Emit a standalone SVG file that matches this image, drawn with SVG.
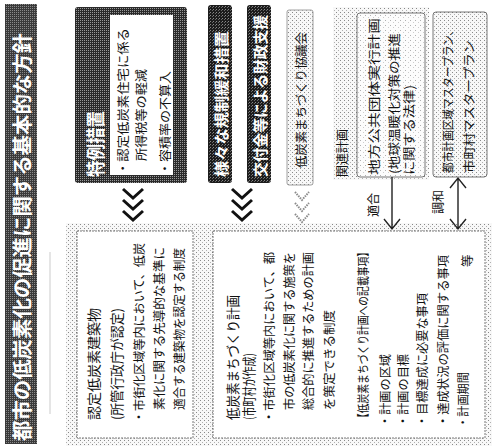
<svg xmlns="http://www.w3.org/2000/svg" width="492" height="446" viewBox="0 0 492 446">
<style>
text{font-family:'Noto Sans CJK JP','Noto Sans',sans-serif;dominant-baseline:central}
.w{fill:#fff;font-weight:bold}
.d{fill:#111;font-size:12.5px}
.h{fill:#111;font-size:13.5px}
.chev{fill:none;stroke:#111;stroke-width:3}
.chevl{fill:none;stroke:#8a8a8a;stroke-width:2;stroke-dasharray:1.5 1}
.arr{fill:none;stroke:#222;stroke-width:1.4}
</style>
<defs>
<pattern id="ht" width="2" height="2" patternUnits="userSpaceOnUse"><rect width="2" height="2" fill="#3a3a3a"/><rect width="1" height="1" fill="#8a8a8a"/></pattern>
<pattern id="dk" width="3" height="3" patternUnits="userSpaceOnUse"><rect width="3" height="3" fill="#1c1c1c"/><rect width="1" height="1" fill="#888"/><rect x="2" y="1" width="1" height="1" fill="#666"/></pattern>
<pattern id="fr" width="2" height="2" patternUnits="userSpaceOnUse"><rect width="2" height="2" fill="#2a2a2a"/><rect width="1" height="1" fill="#999"/></pattern>
<pattern id="lt" width="4" height="4" patternUnits="userSpaceOnUse"><rect width="4" height="4" fill="#f8f8f8"/><rect width="1" height="1" fill="#888"/><rect x="2" y="2" width="1" height="1" fill="#b0b0b0"/></pattern>
<pattern id="lt2" width="5" height="5" patternUnits="userSpaceOnUse"><rect width="5" height="5" fill="#fcfcfc"/><rect width="1" height="1" fill="#b0b0b0"/><rect x="3" y="2" width="1" height="1" fill="#cccccc"/></pattern>
</defs>
<rect width="492" height="446" fill="#fff"/>

<g id="title">
<rect x="5" y="4" width="32" height="440" fill="url(#ht)"/>
<text class="w" font-size="20" transform="translate(21,441) rotate(-90)" textLength="408" lengthAdjust="spacingAndGlyphs">都市の低炭素化の促進に関する基本的な方針</text>
</g>

<line x1="50" y1="252" x2="50" y2="414" stroke="#aaa" stroke-width="0.6"/>

<g id="tokurei">
<rect x="75" y="7" width="112" height="176" rx="3" fill="url(#fr)"/>
<rect x="110" y="15" width="63" height="160" fill="#fff"/>
<text class="w" font-size="19" transform="translate(94,177) rotate(-90)" textLength="66" lengthAdjust="spacingAndGlyphs">特例措置</text>
<text class="d" font-size="13" transform="translate(122,175) rotate(-90)" textLength="147" lengthAdjust="spacingAndGlyphs">・認定低炭素住宅に係る</text>
<text class="d" font-size="13" transform="translate(140,161) rotate(-90)" textLength="92" lengthAdjust="spacingAndGlyphs">所得税等の軽減</text>
<text class="d" font-size="13" transform="translate(164,175) rotate(-90)" textLength="104" lengthAdjust="spacingAndGlyphs">・容積率の不算入</text>
</g>

<g id="kisei">
<rect x="208" y="5" width="24" height="178" rx="3" fill="url(#dk)"/>
<text class="w" font-size="15" transform="translate(220,177) rotate(-90)" textLength="146" lengthAdjust="spacingAndGlyphs">様々な規制緩和措置</text>
</g>

<g id="kofukin">
<rect x="247" y="5" width="24" height="178" rx="3" fill="url(#dk)"/>
<text class="w" font-size="15" transform="translate(259,177) rotate(-90)" textLength="162" lengthAdjust="spacingAndGlyphs">交付金等による財政支援</text>
</g>

<g id="kyogikai">
<rect x="287" y="10" width="26" height="175" rx="2" fill="url(#lt)" stroke="#888" stroke-width="0.8"/>
<text class="d" font-size="13" transform="translate(300,168) rotate(-90)" textLength="136" lengthAdjust="spacingAndGlyphs">低炭素まちづくり協議会</text>
</g>

<g id="kanren">
<rect x="333" y="7" width="96" height="173" fill="url(#lt)"/>
<text class="d" font-size="12.5" transform="translate(341,177) rotate(-90)" textLength="48" lengthAdjust="spacingAndGlyphs">関連計画</text>
<rect x="357" y="13" width="68" height="164" rx="3" fill="url(#lt2)" stroke="#555" stroke-width="0.8"/>
<text class="d" font-size="14" transform="translate(373,175) rotate(-90)" textLength="157" lengthAdjust="spacingAndGlyphs">地方公共団体実行計画</text>
<text class="d" font-size="13" transform="translate(393,174) rotate(-90)" textLength="141" lengthAdjust="spacingAndGlyphs">(地球温暖化対策の推進</text>
<text class="d" font-size="13" transform="translate(408,175) rotate(-90)" textLength="90" lengthAdjust="spacingAndGlyphs">に関する法律)</text>
</g>

<g id="toshikeikaku">
<rect x="433" y="12" width="54" height="165" rx="3" fill="url(#lt)" stroke="#555" stroke-width="0.8"/>
<text class="d" font-size="12" transform="translate(447,173) rotate(-90)" textLength="148" lengthAdjust="spacingAndGlyphs">都市計画区域マスタープラン、</text>
<text class="d" font-size="13" transform="translate(468,173) rotate(-90)" textLength="133" lengthAdjust="spacingAndGlyphs">市町村マスタープラン</text>
</g>

<rect x="66" y="223" width="426" height="223" fill="url(#lt)"/>

<g id="nintei">
<rect x="77" y="231" width="116" height="207" fill="#fff" stroke="#555" stroke-width="0.8" stroke-dasharray="2 1"/>
<text class="h" transform="translate(93,420) rotate(-90)" textLength="112" lengthAdjust="spacingAndGlyphs">認定低炭素建築物</text>
<text class="h" transform="translate(116,420) rotate(-90)" textLength="112" lengthAdjust="spacingAndGlyphs">(所管行政庁が認定)</text>
<text class="d" transform="translate(138,423) rotate(-90)" textLength="180" lengthAdjust="spacingAndGlyphs">・市街化区域等内において、低炭</text>
<text class="d" transform="translate(158,410) rotate(-90)" textLength="163" lengthAdjust="spacingAndGlyphs">素化に関する先導的な基準に</text>
<text class="d" transform="translate(178,410) rotate(-90)" textLength="162" lengthAdjust="spacingAndGlyphs">適合する建築物を認定する制度</text>
</g>

<g id="keikaku">
<rect x="213" y="231" width="272" height="207" fill="#fff" stroke="#555" stroke-width="0.8" stroke-dasharray="2 1"/>
<text class="h" transform="translate(232,420) rotate(-90)" textLength="125" lengthAdjust="spacingAndGlyphs">低炭素まちづくり計画</text>
<text class="h" transform="translate(248,420) rotate(-90)" textLength="67" lengthAdjust="spacingAndGlyphs">(市町村が作成)</text>
<text class="d" transform="translate(268,423) rotate(-90)" textLength="171" lengthAdjust="spacingAndGlyphs">・市街化区域等内において、都</text>
<text class="d" transform="translate(288,410) rotate(-90)" textLength="158" lengthAdjust="spacingAndGlyphs">市の低炭素化に関する施策を</text>
<text class="d" transform="translate(307,410) rotate(-90)" textLength="158" lengthAdjust="spacingAndGlyphs">総合的に推進するための計画</text>
<text class="d" transform="translate(328,410) rotate(-90)" textLength="100" lengthAdjust="spacingAndGlyphs">を策定できる制度</text>
<text class="d" transform="translate(362,423) rotate(-90)" textLength="176" lengthAdjust="spacingAndGlyphs">【低炭素まちづくり計画への記載事項】</text>
<text class="d" transform="translate(384,427) rotate(-90)" textLength="73" lengthAdjust="spacingAndGlyphs">・計画の区域</text>
<text class="d" transform="translate(402,427) rotate(-90)" textLength="73" lengthAdjust="spacingAndGlyphs">・計画の目標</text>
<text class="d" transform="translate(421,427) rotate(-90)" textLength="134" lengthAdjust="spacingAndGlyphs">・目標達成に必要な事項</text>
<text class="d" transform="translate(442,427) rotate(-90)" textLength="172" lengthAdjust="spacingAndGlyphs">・達成状況の評価に関する事項</text>
<text class="d" transform="translate(462,428) rotate(-90)" textLength="56" lengthAdjust="spacingAndGlyphs">・計画期間</text>
<text class="d" transform="translate(466,267) rotate(-90)">等</text>
</g>

<g id="connectors">
<path class="chev" d="M123,189 l10,9 l10,-9 M123,200 l10,9 l10,-9 M123,211 l10,9 l10,-9"/>
<path class="chev" d="M232,189 l10,9 l10,-9 M232,200 l10,9 l10,-9 M232,211 l10,9 l10,-9"/>
<path class="chevl" d="M295,192 l7,8 l7,-8 M295,203 l7,8 l7,-8 M295,214 l7,8 l7,-8"/>
<path class="arr" d="M392,177 V229 M384,219 L392,229 L400,219"/>
<path class="arr" d="M458,178 V229 M450,188 L458,178 L466,188 M450,219 L458,229 L466,219"/>
<text class="d" font-size="12" transform="translate(372,217) rotate(-90)" textLength="24" lengthAdjust="spacingAndGlyphs">適合</text>
<text class="d" font-size="12" transform="translate(437,214) rotate(-90)" textLength="24" lengthAdjust="spacingAndGlyphs">調和</text>
</g>
</svg>
